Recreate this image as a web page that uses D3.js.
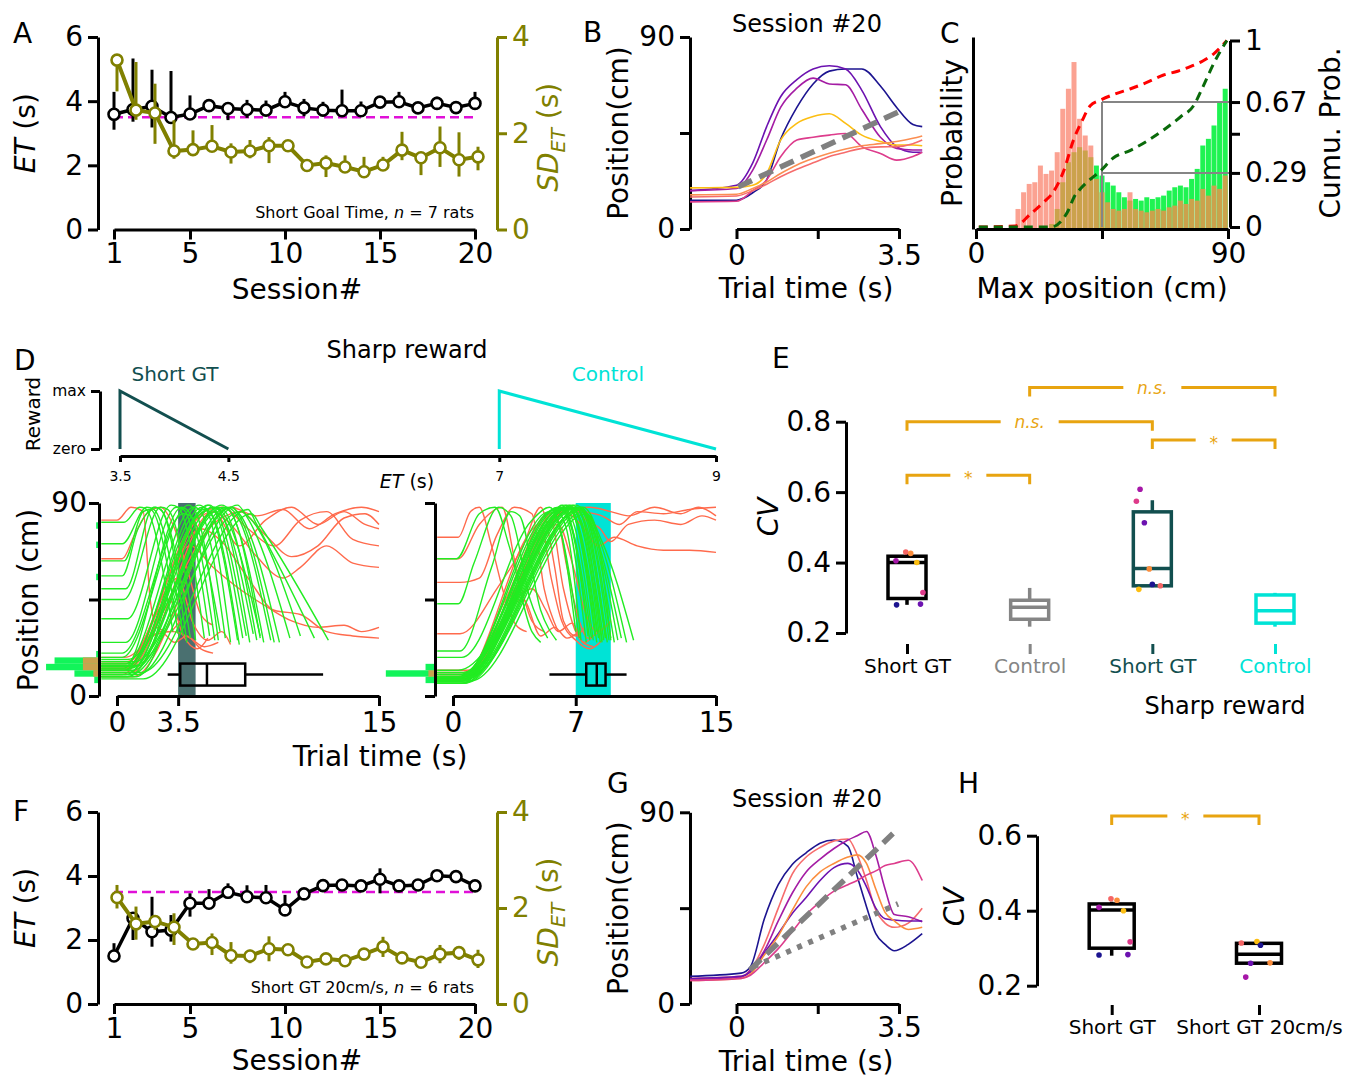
<!DOCTYPE html>
<html>
<head>
<meta charset="utf-8">
<script src="https://cdn.jsdelivr.net/npm/d3@7"></script>
<style>
  body { margin: 0; background: #fff; }
  svg text { font-family: "DejaVu Sans", sans-serif; }
</style>
</head>
<body>
<svg id="fig" width="1346" height="1078"></svg>
<script>
// ---------- data ----------
var sessions = [1,2,3,4,5,6,7,8,9,10,11,12,13,14,15,16,17,18,19,20];
var sessionTicks = [1,5,10,15,20];
var etTicks = [0,2,4,6];
var sdTicks = [0,2,4];
var goalET = 3.5;

// A: Short goal time
var etA   = [3.59,3.74,3.84,3.49,3.60,3.86,3.77,3.74,3.72,3.98,3.79,3.72,3.70,3.70,3.97,3.98,3.79,3.93,3.80,3.93];
var etAUp = [0.70,1.59,1.14,1.45,0.58,0.20,0.16,0.30,0.30,0.31,0.28,0.26,0.66,0.29,0.16,0.31,0.16,0.21,0.10,0.36];
var etADn = [0.48,0.38,0.66,0.10,0.10,0.10,0.36,0.26,0.16,0.16,0.26,0.10,0.12,0.10,0.05,0.10,0.16,0.16,0.05,0.05];
var sdA   = [3.52,2.48,2.42,1.63,1.66,1.73,1.61,1.63,1.74,1.74,1.33,1.38,1.30,1.20,1.34,1.65,1.49,1.70,1.45,1.51];
var sdAUp = [0.05,1.00,0.61,0.64,0.40,0.44,0.18,0.23,0.18,0.05,0.05,0.16,0.24,0.31,0.17,0.38,0.12,0.44,0.57,0.21];
var sdADn = [0.65,0.20,0.64,0.16,0.05,0.08,0.24,0.15,0.36,0.05,0.05,0.29,0.07,0.03,0.07,0.21,0.36,0.40,0.35,0.28];

// F: Short GT 20cm/s
var etF   = [1.50,2.68,2.26,2.31,3.15,3.15,3.49,3.35,3.32,2.94,3.44,3.70,3.72,3.69,3.90,3.69,3.72,4.01,3.98,3.69];
var etFUp = [0.40,0.16,1.09,0.47,0.31,0.44,0.28,0.36,0.40,0.47,0.12,0.05,0.08,0.05,0.34,0.05,0.05,0.05,0.05,0.05];
var etFDn = [0.05,0.68,0.47,0.36,0.42,0.16,0.19,0.16,0.18,0.16,0.14,0.05,0.08,0.05,0.44,0.05,0.05,0.05,0.05,0.05];
var sdF   = [2.22,1.67,1.72,1.60,1.25,1.28,1.01,1.00,1.15,1.13,0.875,0.94,0.90,1.04,1.19,0.96,0.87,1.04,1.07,0.92];
var sdFUp = [0.26,0.36,0.10,0.29,0.03,0.19,0.28,0.13,0.26,0.03,0.03,0.10,0.03,0.03,0.21,0.03,0.08,0.19,0.12,0.21];
var sdFDn = [0.23,0.33,0.17,0.37,0.03,0.26,0.17,0.15,0.26,0.03,0.03,0.10,0.03,0.03,0.21,0.03,0.06,0.19,0.15,0.17];

// B / G: session #20 trajectories (position, cm)
var posTicks = [0,45,90];
var trialTicks = [0,1.75,3.5];
var timesB = [-1,0,0.35,0.65,0.95,1.3,1.65,2.0,2.35,2.7,3.1,3.45,3.8,4.0];
var trajB = [
  [13.5,13.5,17,23,42,57,68,74,75,75,67,57,49,48],
  [18,20.5,31,48,62,70,75,76.5,75,65,48,38.6,36,36],
  [18,19,27.6,41.7,57,66,70.7,68,67.6,56,43,37.8,37,37],
  [19.3,19.5,20.5,26,41.7,49.5,52.7,54,49.5,44,41,39.4,39.4,39],
  [12.7,13,18,23,33.9,41.7,43,44,44.8,38.6,35.4,32.3,34,36],
  [15,15.5,18,21,24.5,28,31,34,36,37.8,38.5,38.6,40,41.7],
  [16,16.3,19,22,26,30,33,35.5,37.5,39,40,41,42.5,43.6]
];
var colorsB = ['#1c1490','#6c12b0','#a41ca4','#fcbe12','#dd3c8c','#f66c6c','#fb8e52'];
var guideB = [[0.04,19.8],[3.5,55]];

var timesG = [-1,0.1,0.3,0.6,0.9,1.2,1.5,1.8,2.1,2.4,2.6,2.8,3.0,3.2,3.4,3.7,4.0];
var trajG = [
  [13,14.5,17.5,40,56,65.5,71,75.5,77,74,60,45.7,33,28,25,28,33],
  [12,13,16,28,45,61,69,73.5,76.5,77.5,70,58,44,38,36,38,45],
  [11.5,12.5,16,25,39,52,62,68,73,77,79,81,70,54,42,41,38.6],
  [12,13,15,24,33,42.5,50,58,64,66,63,55,45,40,39.4,39,39],
  [11,12,14,23,32,44,55,62,66,69,70,66,54,43,39,35,36],
  [11,12,13.5,19.5,26,34,42,48,53,56,58,60.5,62.5,65,66,67.5,58]
];
var colorsG = ['#1c1490','#f66c6c','#a41ca4','#6c12b0','#fb8e3e','#dd3c8c'];
var guideGDash = [[0.29,16],[3.37,80]];
var guideGDot = [[0.36,17.5],[3.48,47]];

// C: max position histograms (2 cm bins, % of trials) and cumulative probability
var maxPosBins = [10,12,14,16,18,20,22,24,26,28,30,32,34,36,38,40,42,44,46,48,50,52,54,56,58,60,62,64,66,68,70,72,74,76,78,80,82,84,86,88];
var maxPosRed = [0,0.1,0.6,1.1,1.35,1.4,1.9,1.65,1.75,2.3,3.6,4.2,5.0,3.3,2.8,2.5,1.5,1.1,0.8,0.6,0.55,0.6,1.1,0.6,0.55,0.5,0.55,0.6,0.55,0.65,0.7,0.85,0.75,0.9,0.85,1.2,1.0,1.3,1.2,1.6];
var maxPosGreen = [0,0,0,0,0,0,0,0,0.15,0.6,1.4,2.0,2.3,2.45,2.35,2.15,1.9,1.6,1.4,1.3,1.1,0.95,0.85,0.9,0.85,0.95,0.9,0.95,1.0,1.15,1.25,1.3,1.25,1.5,1.8,2.5,2.7,3.1,3.8,4.2];
var cdfRedPos = [1,14,19.5,24,27.7,31.3,34.9,37.9,40.8,44.4,50,55,61,67,72,76.5,81,85,89.6];
var cdfRed = [0,0.005,0.07,0.13,0.19,0.30,0.47,0.57,0.65,0.68,0.715,0.74,0.775,0.815,0.835,0.86,0.89,0.93,1];
var cdfGreenPos = [1,27,30.7,33,35,37,39.6,42,44.4,49,55,61,67,73,77.7,81,85,89.6];
var cdfGreen = [0,0,0.036,0.09,0.16,0.2,0.24,0.27,0.3,0.37,0.41,0.46,0.52,0.59,0.65,0.75,0.88,1];
var cumTicks = [0,0.29,0.5,0.67,1];
var cumLabels = ['0','0.29','','0.67','1'];
var maxPosTicks = [0,45,90];
var splitPos = 45;
var splitLevels = [0.67,0.29];

// D: reward schedules
var rewardTicks = [3.5,4.5,7,9];
var rewardShortT = [3.5,3.5,4.5], rewardShortV = [0,1,0];
var rewardCtrlT = [7,7,9], rewardCtrlV = [0,1,0];

// D: trajectories [time s, position cm]
var shortGood = [
  [[-0.9,81],[0.4,81],[1.3,88],[1.6,87.5],[3.2,30]],
  [[-0.9,71],[0.3,71],[1.7,88],[2.1,87],[3.8,28]],
  [[-0.9,56],[0.3,56],[1.2,78],[2.2,88],[2.6,86],[4.2,27]],
  [[-0.9,45],[0.4,45],[2.5,88],[2.9,87],[4.5,26]],
  [[-0.9,36],[0.6,36],[3.1,89],[3.5,88],[5.0,27]],
  [[-0.9,25],[0.5,25],[3.4,88],[3.8,87],[5.3,28]],
  [[-0.9,18],[0.3,18],[4.1,89],[4.5,86],[5.8,26]],
  [[-0.9,15],[0.5,15],[4.4,88],[4.8,86],[6.2,27]],
  [[-0.9,14],[0.6,14],[4.7,89],[5.1,87],[6.5,25]],
  [[-0.9,12],[0.4,12],[4.9,88],[5.3,86],[6.9,26]],
  [[-0.9,11],[0.7,11],[5.2,89],[5.6,86],[7.2,27]],
  [[-0.9,10],[0.5,10],[5.5,88],[5.9,86],[7.6,25]],
  [[-0.9,13],[0.8,13],[5.8,88],[6.2,86],[8.0,26]],
  [[-0.9,9],[0.6,9],[6.0,89],[6.5,86],[8.4,25]],
  [[-0.9,12],[0.9,12],[6.3,88],[6.8,85],[8.8,26]],
  [[-0.9,16],[1.0,16],[6.5,88],[7.0,85],[9.3,25]],
  [[-0.9,10],[1.2,10],[6.9,89],[7.4,84],[9.9,27]],
  [[-0.9,14],[0.9,14],[7.1,86],[7.6,83],[10.5,28]],
  [[-0.9,11],[1.4,11],[7.5,87],[8.0,80],[11.3,27]],
  [[-0.9,8],[1.5,8],[7.7,85],[8.3,78],[12.1,26]],
  [[-0.9,13],[0.4,13],[3.7,88],[4.1,86],[5.6,26]],
  [[-0.9,15],[0.7,15],[5.0,87],[5.4,85],[7.0,24]],
  [[-0.9,12],[0.5,12],[5.3,89],[5.7,86],[7.4,28]],
  [[-0.9,17],[0.6,17],[6.1,88],[6.5,86],[8.2,27]],
  [[-0.9,10],[0.8,10],[6.6,88],[7.0,84],[9.0,25]],
  [[-0.9,63],[0.4,63],[1.5,86],[1.9,87],[3.5,29]],
  [[-0.9,50],[0.5,50],[2.1,88],[2.5,87],[4.0,25]],
  [[-0.9,20],[0.3,20],[3.8,85],[4.2,84],[5.9,30]],
  [[-0.9,9],[1.1,9],[5.6,86],[6.0,84],[7.8,29]],
  [[-0.9,14],[1.2,14],[4.4,82],[5.6,88],[6.0,86],[8.2,28]]
];
var shortBad = [
  [[-0.9,82],[0.0,82],[0.8,88],[1.5,86],[1.9,45],[2.3,32],[3.0,30],[3.6,35]],
  [[-0.9,64],[0.3,64],[1.0,75],[1.7,85],[2.5,88],[3.2,80],[4.0,60],[4.8,38],[5.5,33]],
  [[-0.9,12],[0.5,12],[2.0,28],[3.2,30],[4.2,27],[5.0,23],[5.8,25]],
  [[-0.9,10],[0.3,10],[4.5,82],[5.5,86],[7.0,70],[8.5,82],[10.0,88],[11.5,80],[13.0,86],[14.2,80],[15,78]],
  [[-0.9,14],[0.6,14],[5.0,86],[6.0,88],[7.5,78],[9.0,70],[10.5,82],[12.0,86],[13.5,73],[15,70]],
  [[-0.9,11],[0.8,11],[5.5,86],[6.5,80],[8.0,65],[9.5,55],[10.5,60],[12.0,70],[13.5,62],[15,60]],
  [[-0.9,15],[0.5,15],[4.2,70],[5.5,60],[7.0,50],[8.5,42],[10.0,35],[11.5,32],[13.0,33],[14.0,30],[15,32]],
  [[-0.9,13],[0.7,13],[4.8,78],[6.0,72],[7.5,55],[9.0,40],[10.5,38],[12.0,30],[13.5,28],[15,27]],
  [[-0.9,12],[0.4,12],[3.5,55],[4.3,35],[5.2,26],[6.0,30],[6.5,24]],
  [[-0.9,16],[0.6,16],[3.0,45],[3.8,28],[4.6,22],[5.2,27]],
  [[-0.9,9],[0.9,9],[6.5,88],[8.0,84],[9.5,87],[11.0,78],[12.5,85],[14.0,88],[15,86]],
  [[-0.9,13],[0.5,13],[2.5,30],[3.3,25],[4.0,28],[4.8,22],[5.5,20]],
  [[-0.9,18],[0.4,18],[5.8,82],[7.0,86],[8.5,75],[10.0,65],[11.5,70],[13.0,83],[14.2,85],[15,80]]
];
var ctrlGood = [
  [[-0.9,64],[0.2,64],[1.5,85],[2.4,88],[3.2,70],[4.5,30],[5.0,25]],
  [[-0.9,43],[0.3,43],[1.2,62],[2.6,88],[3.3,84],[4.4,45],[5.4,27]],
  [[-0.9,21],[0.4,21],[2.2,60],[3.3,86],[3.8,84],[5.0,40],[5.9,26]],
  [[-0.9,18],[0.5,18],[4.5,82],[5.5,88],[6.2,75],[7.0,30]],
  [[-0.9,8],[0.3,8],[5.8,87],[6.4,80],[7.3,26]],
  [[-0.9,7],[0.4,7],[6.0,88],[6.6,80],[7.6,25]],
  [[-0.9,9],[0.3,9],[6.2,87],[6.8,78],[7.9,27]],
  [[-0.9,6],[0.5,6],[6.3,88],[6.9,80],[8.0,26]],
  [[-0.9,10],[0.4,10],[6.4,89],[7.0,82],[8.2,25]],
  [[-0.9,8],[0.6,8],[6.5,88],[7.1,81],[8.3,27]],
  [[-0.9,7],[0.5,7],[6.6,89],[7.2,83],[8.5,25]],
  [[-0.9,9],[0.4,9],[6.7,88],[7.3,82],[8.6,26]],
  [[-0.9,6],[0.6,6],[6.8,89],[7.4,83],[8.7,27]],
  [[-0.9,8],[0.5,8],[6.9,88],[7.5,82],[8.8,25]],
  [[-0.9,10],[0.7,10],[7.0,89],[7.6,84],[8.9,26]],
  [[-0.9,7],[0.5,7],[7.1,88],[7.7,82],[9.0,27]],
  [[-0.9,9],[0.6,9],[7.2,87],[7.8,81],[9.2,25]],
  [[-0.9,8],[0.8,8],[7.3,88],[7.9,80],[9.4,26]],
  [[-0.9,6],[0.7,6],[7.4,87],[8.0,78],[9.6,27]],
  [[-0.9,9],[0.9,9],[7.5,86],[8.2,76],[9.9,25]],
  [[-0.9,7],[1.0,7],[7.6,85],[8.5,72],[10.3,26]],
  [[-0.9,8],[0.4,8],[5.5,86],[6.1,78],[7.2,27]],
  [[-0.9,10],[0.5,10],[6.1,88],[6.7,80],[7.8,26]],
  [[-0.9,7],[0.6,7],[6.6,88],[7.1,79],[8.1,28]],
  [[-0.9,9],[0.5,9],[7.0,88],[7.5,80],[8.5,26]],
  [[-0.9,8],[0.7,8],[7.2,87],[7.7,80],[8.7,27]],
  [[-0.9,6],[0.6,6],[7.4,88],[8.0,82],[9.0,26]],
  [[-0.9,9],[0.4,9],[6.8,87],[7.3,80],[8.4,25]],
  [[-0.9,11],[0.6,11],[6.0,86],[6.7,88],[7.4,70],[8.2,30]],
  [[-0.9,12],[0.3,12],[5.0,70],[6.2,89],[6.9,75],[7.7,28]]
];
var ctrlBad = [
  [[-0.9,74],[0.3,74],[1.0,86],[1.5,88],[2.2,70],[3.0,45],[3.6,33],[4.2,30]],
  [[-0.9,64],[0.3,64],[1.5,80],[2.8,88],[3.6,60],[4.5,35],[5.2,30]],
  [[-0.9,53],[0.4,53],[1.5,55],[2.5,75],[3.5,88],[4.5,85],[5.2,50],[6.0,30]],
  [[-0.9,29],[0.4,29],[2.5,50],[4.0,70],[5.0,88],[5.8,60],[6.3,35],[7.0,28],[7.5,32]],
  [[-0.9,8],[0.6,8],[3.0,45],[5.5,85],[6.3,50],[7.0,30],[7.5,25],[8.0,28]],
  [[-0.9,10],[0.5,10],[3.5,50],[5.8,86],[6.5,60],[7.2,35],[7.7,27],[8.3,30]],
  [[-0.9,7],[0.4,7],[5.0,80],[5.6,55],[6.2,35],[7.0,26],[7.8,22],[8.5,26]],
  [[-0.9,9],[0.7,9],[6.5,88],[7.5,86],[8.5,84],[9.5,80],[10.5,86],[12.0,85],[13.5,87],[15,88]],
  [[-0.9,11],[0.6,11],[6.8,88],[7.6,82],[8.4,78],[9.0,72],[10.0,80],[11.5,82],[13.0,80],[14.2,84],[15,82]],
  [[-0.9,8],[0.5,8],[6.3,86],[7.3,80],[8.3,70],[9.2,74],[10.5,70],[12.0,68],[13.5,68],[15,67]],
  [[-0.9,12],[0.8,12],[6.6,87],[7.8,88],[9.0,86],[10.0,84],[11.5,88],[13.0,85],[14.0,88],[15,84]],
  [[-0.9,9],[0.5,9],[4.5,50],[5.3,40],[6.0,30],[6.8,34],[7.4,25],[8.0,23]],
  [[-0.9,10],[0.5,10],[4.0,45],[5.0,28],[5.8,32],[6.5,27],[7.2,30]],
  [[-0.9,8],[0.6,8],[6.0,80],[6.8,62],[7.5,40],[8.2,30],[9.0,35]]
];
// D: ET box plots [low whisker, q1, median, q3, high whisker]
var etBoxShort = [2.9,3.62,5.15,7.34,11.8];
var etBoxCtrl = [5.5,7.6,8.2,8.7,9.9];
// D: start-position marginal histograms (3 cm bins, counts)
var startBinsShort = [6,9,12,15,18,54,69,78];
var startGoodShort = [5,26,56,47,3,3,3,3];
var startBothShort = [0,6,17,17,0,0,0,0];
var startBinsCtrl = [6,9,12];
var startGoodCtrl = [10,52,10];
var startBothCtrl = [0,7,0];

// E: CV box plots
var catE = ['Short GT','Control','Short GT','Control'];
var cvLow  = [0.280,0.218,0.334,0.218];
var cvQ1   = [0.298,0.239,0.334,0.228];
var cvMed  = [0.400,0.273,0.383,0.263];
var cvQ3   = [0.418,0.293,0.544,0.308];
var cvHigh = [0.430,0.328,0.577,0.314];
var cvTicksE = [0.2,0.4,0.6,0.8];
var ratShortCV = [0.405,0.43,0.426,0.40,0.315,0.28,0.282];
var ratShortJit = [-0.09,-0.01,0.03,0.08,0.13,-0.085,0.11];
var ratShortCol = ['#a617a8','#f56565','#fb8d3c','#fcbe12','#de3a8a','#1c1490','#6c12b0'];
var ratSharpCV = [0.608,0.574,0.513,0.382,0.338,0.334,0.324];
var ratSharpJit = [-0.1,-0.13,-0.065,-0.025,0,0.065,-0.11];
var ratSharpCol = ['#a617a8','#de3a8a','#6c12b0','#fb8d3c','#1c1490','#f56565','#fcbe12'];
var sigFrom = [0,0,2,1], sigTo = [1,2,3,3];
var sigLevel = [0.648,0.800,0.748,0.897];
var sigText = ['*','n.s.','*','n.s.'];

// H: CV box plots
var catH = ['Short GT','Short GT 20cm/s'];
var cvHLow = [0.28,0.26], cvHQ1 = [0.30,0.26], cvHMed = [0.402,0.284], cvHQ3 = [0.418,0.313], cvHHigh = [0.424,0.313];
var cvTicksH = [0.2,0.4,0.6];
var ratH1CV = [0.409,0.432,0.428,0.40,0.317,0.282,0.283];
var ratH1Jit = [-0.086,-0.005,0.036,0.08,0.125,-0.086,0.11];
var ratH1Col = ['#a617a8','#f56565','#fb8d3c','#fcbe12','#de3a8a','#1c1490','#6c12b0'];
var ratH2CV = [0.314,0.318,0.308,0.26,0.261,0.223];
var ratH2Jit = [-0.12,-0.014,0.01,-0.057,0.075,-0.09];
var ratH2Col = ['#f56565','#fcbe12','#1c1490','#6c12b0','#fb8d3c','#a617a8'];
var sigH = 0.6525;

// ---------- styles ----------
var olive = '#808000', magenta = '#e010d8', teal = '#124f4f', cyan = '#00e3d6',
    sigColor = '#e8a410', grayBox = '#858585', goodGreen = '#22ec22', badRed = '#ff6a4c';

var svg = d3.select('#fig');
var plain = function (d) { return String(d); };
var hideMid = function (mid) { return function (d) { return d === mid ? '' : String(d); }; };

function styleAxis(g, color, fs) {
  g.select('.domain').attr('stroke', color).attr('stroke-width', 3);
  g.selectAll('.tick line').attr('stroke', color).attr('stroke-width', 3);
  g.selectAll('.tick text').attr('fill', color).attr('font-size', fs);
}
function addAxis(gen, tx, ty, color, fs) {
  return svg.append('g').attr('transform', 'translate(' + tx + ',' + ty + ')')
    .call(gen).call(styleAxis, color || '#000', fs || 28);
}
function label(x, y, parts, opt) {
  opt = opt || {};
  var t = svg.append('text').attr('x', x).attr('y', y)
    .attr('font-size', opt.size || 28).attr('fill', opt.color || '#000')
    .attr('text-anchor', opt.anchor || 'middle');
  if (opt.rotate) t.attr('transform', 'rotate(-90,' + x + ',' + y + ')');
  parts.forEach(function (p) {
    var s = t.append('tspan').text(p[0]);
    if (p[1] === 'i') s.attr('font-style', 'italic');
    if (p[1] === 'sub') s.attr('font-style', 'italic').attr('font-size', (opt.size || 28) * 0.7).attr('dy', 7);
    if (p[1] === 'unsub') s.attr('dy', -7);
  });
  return t;
}

// ---------- A / F ----------
function sessionPanel(top, bottom, et, etUp, etDn, sd, sdUp, sdDn, note, noteY, xlabY) {
  var x = d3.scaleLinear().domain([1, 20]).range([114, 475]);
  var yL = d3.scaleLinear().domain([0, 6]).range([bottom, top]);
  var yR = d3.scaleLinear().domain([0, 4]).range([bottom, top]);

  addAxis(d3.axisLeft(yL).tickValues(etTicks).tickFormat(plain).tickSize(10).tickSizeOuter(0).tickPadding(5), 98, 0);
  addAxis(d3.axisBottom(x).tickValues(sessionTicks).tickFormat(plain).tickSize(10).tickSizeOuter(0).tickPadding(4), 0, bottom);
  addAxis(d3.axisRight(yR).tickValues(sdTicks).tickFormat(plain).tickSize(10).tickSizeOuter(0).tickPadding(5), 497, 0, olive);

  svg.append('line')
    .attr('x1', x(1)).attr('x2', x(20)).attr('y1', yL(goalET)).attr('y2', yL(goalET))
    .attr('stroke', magenta).attr('stroke-width', 2.5).attr('stroke-dasharray', '9,5');

  function series(vals, up, dn, y, color, dx, lw) {
    var g = svg.append('g');
    g.selectAll('line').data(vals).join('line')
      .attr('x1', function (d, i) { return x(sessions[i]) + dx; })
      .attr('x2', function (d, i) { return x(sessions[i]) + dx; })
      .attr('y1', function (d, i) { return y(d + up[i]); })
      .attr('y2', function (d, i) { return y(d - dn[i]); })
      .attr('stroke', color).attr('stroke-width', 3);
    g.append('path').datum(vals)
      .attr('d', d3.line().x(function (d, i) { return x(sessions[i]) + dx; }).y(function (d) { return y(d); }))
      .attr('fill', 'none').attr('stroke', color).attr('stroke-width', lw);
    g.selectAll('circle').data(vals).join('circle')
      .attr('cx', function (d, i) { return x(sessions[i]) + dx; })
      .attr('cy', function (d) { return y(d); })
      .attr('r', 5.5).attr('fill', '#fff').attr('stroke', color).attr('stroke-width', 2.6);
  }
  series(et, etUp, etDn, yL, '#000', 0, 3.5);
  series(sd, sdUp, sdDn, yR, olive, 3, 4);

  label(474, noteY, note, { size: 16, anchor: 'end' });
  label(297, xlabY, [['Session#']]);
  label(35, (top + bottom) / 2, [['ET', 'i'], [' (s)']], { rotate: true });
  label(558, (top + bottom) / 2 + 4, [['SD', 'i'], ['ET', 'sub'], [' (s)', 'unsub']], { rotate: true, color: olive });
}

sessionPanel(37, 229.5, etA, etAUp, etADn, sdA, sdAUp, sdADn,
  [['Short Goal Time, '], ['n', 'i'], [' = 7 rats']], 218, 299);
sessionPanel(812, 1004, etF, etFUp, etFDn, sdF, sdFUp, sdFDn,
  [['Short GT 20cm/s, '], ['n', 'i'], [' = 6 rats']], 993, 1070);

// ---------- B / G ----------
function trajPanel(top, bottom, times, traj, colors, guides, xlabY, pad) {
  var x = d3.scaleLinear().domain([0, 3.5]).range([736.5, 899]);
  var y = d3.scaleLinear().domain([0, 90]).range([bottom, top]);
  addAxis(d3.axisLeft(y).tickValues(posTicks).tickFormat(hideMid(45))
    .tickSize(10).tickSizeOuter(0).tickPadding(5), 690, 0);
  addAxis(d3.axisBottom(x).tickValues(trialTicks).tickFormat(hideMid(1.75))
    .tickSize(10).tickSizeOuter(0).tickPadding(pad), 0, bottom);

  var line = d3.line().x(function (d, i) { return x(times[i]); }).y(function (d) { return y(d); }).curve(d3.curveMonotoneX);
  svg.append('g').selectAll('path').data(traj).join('path')
    .attr('d', line).attr('fill', 'none')
    .attr('stroke', function (d, i) { return colors[i]; }).attr('stroke-width', 1.6);

  var seg = d3.line().x(function (d) { return x(d[0]); }).y(function (d) { return y(d[1]); });
  guides.forEach(function (gd) {
    svg.append('path').datum(gd.pts).attr('d', seg).attr('fill', 'none')
      .attr('stroke', '#808080').attr('stroke-width', gd.w).attr('stroke-dasharray', gd.dash);
  });
  label(807, top - 5, [['Session #20']], { size: 24 });
  label(806, xlabY, [['Trial time (s)']]);
  label(628, (top + bottom) / 2, [['Position(cm)']], { rotate: true });
}
trajPanel(37, 229, timesB, trajB, colorsB, [{ pts: guideB, dash: '15,8', w: 5.5 }], 298, 6);
trajPanel(812.3, 1004, timesG, trajG, colorsG, [
  { pts: guideGDash, dash: '15,8', w: 5.5 },
  { pts: guideGDot, dash: '5,7', w: 5.5 }
], 1071, 3);

// ---------- C ----------
(function () {
  var x = d3.scaleLinear().domain([0, 90]).range([976, 1228]);
  var y = d3.scaleLinear().domain([0, 5.75]).range([229, 37]);
  var yR = d3.scaleLinear().domain([0, 1]).range([227, 40.5]);
  var bw = x(2) - x(0);

  var g = svg.append('g');
  g.selectAll('.top').data(maxPosBins).join('rect')
    .attr('x', function (d) { return x(d) + 0.3; })
    .attr('width', bw - 0.6)
    .attr('y', function (d, i) { return y(Math.max(maxPosRed[i], maxPosGreen[i])); })
    .attr('height', function (d, i) { return y(0) - y(Math.max(maxPosRed[i], maxPosGreen[i])); })
    .attr('fill', function (d, i) { return maxPosRed[i] > maxPosGreen[i] ? '#fba292' : '#1ff352'; });
  g.selectAll('.both').data(maxPosBins).join('rect')
    .attr('x', function (d) { return x(d) + 0.3; })
    .attr('width', bw - 0.6)
    .attr('y', function (d, i) { return y(Math.min(maxPosRed[i], maxPosGreen[i])); })
    .attr('height', function (d, i) { return y(0) - y(Math.min(maxPosRed[i], maxPosGreen[i])); })
    .attr('fill', '#cba24c');

  var gray = '#858585';
  svg.append('line').attr('x1', x(splitPos)).attr('x2', x(splitPos)).attr('y1', yR(splitLevels[0])).attr('y2', yR(0))
    .attr('stroke', gray).attr('stroke-width', 2);
  svg.selectAll('.lvl').data(splitLevels).join('line')
    .attr('x1', x(splitPos)).attr('x2', 1230)
    .attr('y1', function (d) { return yR(d); }).attr('y2', function (d) { return yR(d); })
    .attr('stroke', gray).attr('stroke-width', 2);

  svg.append('path').datum(cdfRed)
    .attr('d', d3.line().x(function (d, i) { return x(cdfRedPos[i]); }).y(function (d) { return yR(d); }).curve(d3.curveMonotoneX))
    .attr('fill', 'none').attr('stroke', '#ff0000').attr('stroke-width', 3).attr('stroke-dasharray', '9,6');
  svg.append('path').datum(cdfGreen)
    .attr('d', d3.line().x(function (d, i) { return x(cdfGreenPos[i]); }).y(function (d) { return yR(d); }).curve(d3.curveMonotoneX))
    .attr('fill', 'none').attr('stroke', '#0a6a0a').attr('stroke-width', 3).attr('stroke-dasharray', '9,6');

  addAxis(d3.axisLeft(y).tickValues([]).tickSizeOuter(0), 973, 0);
  addAxis(d3.axisBottom(x).tickValues(maxPosTicks).tickFormat(hideMid(45))
    .tickSize(10).tickSizeOuter(0).tickPadding(4), 0, 229);
  addAxis(d3.axisRight(yR).tickValues(cumTicks).tickFormat(function (d, i) { return cumLabels[i]; })
    .tickSize(10).tickSizeOuter(0).tickPadding(5), 1230, 0);

  label(1102, 298, [['Max position (cm)']]);
  label(962, 133, [['Probability']], { rotate: true });
  label(1340, 133, [['Cumu. Prob.']], { rotate: true });
})();

// ---------- D (reward schedule) ----------
(function () {
  var x = d3.scaleLinear().domain([3.5, 9]).range([120, 716]);
  var y = d3.scaleLinear().domain([0, 1]).range([449, 391]);
  addAxis(d3.axisBottom(x).tickValues(rewardTicks).tickFormat(plain).tickSize(6).tickSizeOuter(0).tickPadding(9), 0, 456, '#000', 14);
  addAxis(d3.axisLeft(y).tickValues([0, 1]).tickFormat(function (d) { return d ? 'max' : 'zero'; })
    .tickSize(9).tickSizeOuter(0).tickPadding(5), 100, 0, '#000', 15.5);
  var ln = d3.line().x(function (d) { return x(d[0]); }).y(function (d) { return y(d[1]); });
  svg.append('path').datum(rewardShortT.map(function (t, i) { return [t, rewardShortV[i]]; }))
    .attr('d', ln).attr('fill', 'none').attr('stroke', teal).attr('stroke-width', 3);
  svg.append('path').datum(rewardCtrlT.map(function (t, i) { return [t, rewardCtrlV[i]]; }))
    .attr('d', ln).attr('fill', 'none').attr('stroke', cyan).attr('stroke-width', 3);
  label(175, 381, [['Short GT']], { size: 20, color: teal });
  label(608, 381, [['Control']], { size: 20, color: cyan });
  label(407, 358, [['Sharp reward']], { size: 24 });
  label(40, 414, [['Reward']], { size: 20, rotate: true });
  label(407, 488, [['ET', 'i'], [' (s)']], { size: 19 });
})();

// ---------- D (trajectories) ----------
function trialPanel(xr, spineX, band, bandColor, good, bad, box, bins, binGood, binBoth, ticks, showLabels) {
  var x = d3.scaleLinear().domain([0, 15]).range(xr);
  var y = d3.scaleLinear().domain([0, 90]).range([696, 503]);
  var m = d3.scaleLinear().domain([0, 55]).range([0, 52]);

  svg.append('rect').attr('x', x(band[0])).attr('width', x(band[1]) - x(band[0]))
    .attr('y', y(90)).attr('height', y(0) - y(90)).attr('fill', bandColor);

  svg.append('g').selectAll('rect').data(bins).join('rect')
    .attr('x', function (d, i) { return spineX - m(binGood[i]); })
    .attr('width', function (d, i) { return m(binGood[i]); })
    .attr('y', function (d) { return y(d + 3); })
    .attr('height', function (d) { return y(d) - y(d + 3); })
    .attr('fill', '#12f45a');
  svg.append('g').selectAll('rect').data(bins).join('rect')
    .attr('x', function (d, i) { return spineX - m(binBoth[i]); })
    .attr('width', function (d, i) { return m(binBoth[i]); })
    .attr('y', function (d) { return y(d + 3); })
    .attr('height', function (d) { return y(d) - y(d + 3); })
    .attr('fill', '#c9a24e');

  var line = d3.line().x(function (d) { return x(d[0]); }).y(function (d) { return y(d[1]); }).curve(d3.curveMonotoneX);
  svg.append('g').selectAll('path').data(bad).join('path')
    .attr('d', line).attr('fill', 'none').attr('stroke', badRed).attr('stroke-width', 1.4);
  svg.append('g').selectAll('path').data(good).join('path')
    .attr('d', line).attr('fill', 'none').attr('stroke', goodGreen).attr('stroke-width', 1.4);

  var by = y(10);
  var bg = svg.append('g').attr('stroke', '#000').attr('stroke-width', 2.5).attr('fill', 'none');
  bg.append('line').attr('x1', x(box[0])).attr('x2', x(box[1])).attr('y1', by).attr('y2', by);
  bg.append('line').attr('x1', x(box[3])).attr('x2', x(box[4])).attr('y1', by).attr('y2', by);
  bg.append('rect').attr('x', x(box[1])).attr('width', x(box[3]) - x(box[1])).attr('y', by - 11).attr('height', 22);
  bg.append('line').attr('x1', x(box[2])).attr('x2', x(box[2])).attr('y1', by - 11).attr('y2', by + 11);

  addAxis(d3.axisLeft(y).tickValues(posTicks).tickFormat(function (d) { return showLabels && d !== 45 ? String(d) : ''; })
    .tickSize(10).tickSizeOuter(0).tickPadding(2), spineX, 0);
  addAxis(d3.axisBottom(x).tickValues(ticks).tickFormat(plain).tickSize(10).tickSizeOuter(0).tickPadding(6), 0, 696);
}
trialPanel([117, 379], 99, [3.5, 4.5], '#4a7070', shortGood, shortBad, etBoxShort,
  startBinsShort, startGoodShort, startBothShort, [0, 3.5, 15], true);
trialPanel([453, 716], 435, [7, 9], cyan, ctrlGood, ctrlBad, etBoxCtrl,
  startBinsCtrl, startGoodCtrl, startBothCtrl, [0, 7, 15], false);
label(380, 766, [['Trial time (s)']]);
label(38, 600, [['Position (cm)']], { rotate: true });

// ---------- E / H box plots ----------
function boxPanel(o) {
  var x = d3.scaleLinear().domain([0, o.cats.length - 1]).range(o.xr);
  var y = d3.scaleLinear().domain(o.ydom).range(o.yr);
  addAxis(d3.axisLeft(y).tickValues(o.ticks).tickFormat(d3.format('.1f')).tickSize(10).tickSizeOuter(0).tickPadding(5), o.spineX, 0);
  var ax = addAxis(d3.axisBottom(x).tickValues(d3.range(o.cats.length)).tickFormat(function (i) { return o.cats[i]; })
    .tickSize(10).tickSizeOuter(0).tickPadding(5), 0, o.tickY, '#000', 20);
  ax.select('.domain').remove();
  ax.selectAll('.tick').each(function (d, i) {
    d3.select(this).select('line').attr('stroke', o.colors[i]);
    d3.select(this).select('text').attr('fill', o.colors[i]);
  });

  o.cats.forEach(function (c, i) {
    var g = svg.append('g').attr('stroke', o.colors[i]).attr('stroke-width', 3.5).attr('fill', 'none');
    var cx = x(i), hw = o.halfW;
    g.append('line').attr('x1', cx).attr('x2', cx).attr('y1', y(o.q3[i])).attr('y2', y(o.hi[i]));
    g.append('line').attr('x1', cx).attr('x2', cx).attr('y1', y(o.q1[i])).attr('y2', y(o.lo[i]));
    g.append('rect').attr('x', cx - hw).attr('width', 2 * hw).attr('y', y(o.q3[i])).attr('height', y(o.q1[i]) - y(o.q3[i]));
    g.append('line').attr('x1', cx - hw).attr('x2', cx + hw).attr('y1', y(o.med[i])).attr('y2', y(o.med[i]));
  });
  o.dots.forEach(function (dset) {
    svg.append('g').selectAll('circle').data(dset.v).join('circle')
      .attr('cx', function (d, k) { return x(dset.cat + dset.jit[k]); })
      .attr('cy', function (d) { return y(d); })
      .attr('r', 2.8).attr('fill', function (d, k) { return dset.col[k]; });
  });
  o.sig.forEach(function (s) {
    var x1 = x(s.from), x2 = x(s.to), yy = y(s.level), mid = (x1 + x2) / 2, gap = s.text === '*' ? 18 : 29;
    svg.append('path')
      .attr('d', 'M' + x1 + ',' + (yy + 9) + 'V' + yy + 'H' + (mid - gap) + 'M' + (mid + gap) + ',' + yy + 'H' + x2 + 'V' + (yy + 9))
      .attr('fill', 'none').attr('stroke', sigColor).attr('stroke-width', 3);
    label(mid, yy + (s.text === '*' ? 9 : 6), [[s.text, 'i']], { size: 17, color: sigColor });
  });
}
boxPanel({
  cats: catE, colors: ['#000', grayBox, teal, cyan], xr: [907, 1275], ydom: [0.2, 0.8], yr: [633, 421.7],
  ticks: cvTicksE, spineX: 846, tickY: 644, halfW: 19,
  lo: cvLow, q1: cvQ1, med: cvMed, q3: cvQ3, hi: cvHigh,
  dots: [{ cat: 0, v: ratShortCV, jit: ratShortJit, col: ratShortCol }, { cat: 2, v: ratSharpCV, jit: ratSharpJit, col: ratSharpCol }],
  sig: sigFrom.map(function (f, i) { return { from: f, to: sigTo[i], level: sigLevel[i], text: sigText[i] }; })
});
label(1225, 714, [['Sharp reward']], { size: 24 });
label(778, 517, [['CV', 'i']], { rotate: true });

boxPanel({
  cats: catH, colors: ['#000', '#000'], xr: [1111.7, 1259], ydom: [0.2, 0.6], yr: [985.7, 835.7],
  ticks: cvTicksH, spineX: 1037, tickY: 1005, halfW: 22.5,
  lo: cvHLow, q1: cvHQ1, med: cvHMed, q3: cvHQ3, hi: cvHHigh,
  dots: [{ cat: 0, v: ratH1CV, jit: ratH1Jit, col: ratH1Col }, { cat: 1, v: ratH2CV, jit: ratH2Jit, col: ratH2Col }],
  sig: [{ from: 0, to: 1, level: sigH, text: '*' }]
});
label(964, 907, [['CV', 'i']], { rotate: true });

// ---------- panel letters ----------
[['A', 13, 43], ['B', 583, 42], ['C', 940, 43], ['D', 14, 370], ['E', 772, 368], ['F', 13, 821], ['G', 607, 793], ['H', 958, 793]]
  .forEach(function (p) { label(p[1], p[2], [[p[0]]], { anchor: 'start' }); });
</script>
</body>
</html>
